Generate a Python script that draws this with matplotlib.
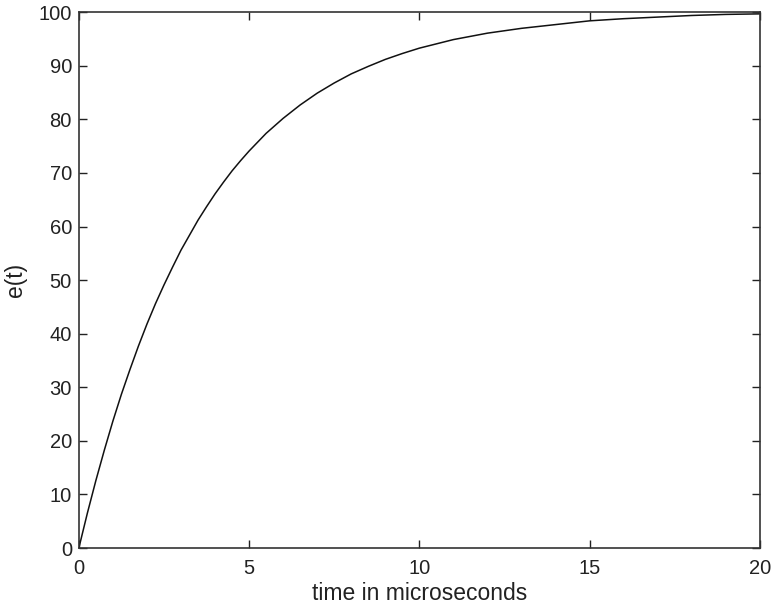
import matplotlib
matplotlib.use("Agg")
import matplotlib.pyplot as plt

plt.rcParams['font.family'] = ['Liberation Sans', 'DejaVu Sans']

t_us = [0, 0.25, 0.5, 0.75, 1, 1.25, 1.5, 1.75, 2, 2.25, 2.5, 2.75, 3,
        3.25, 3.5, 3.75, 4, 4.25, 4.5, 4.75, 5, 5.5, 6, 6.5, 7, 7.5, 8,
        8.5, 9, 9.5, 10, 11, 12, 13, 14, 15, 16, 17, 18, 19, 20]
e_t = [0, 6.5, 12.6, 18.3, 23.7, 28.7, 33.3, 37.7, 41.8, 45.6, 49.1, 52.4,
       55.6, 58.4, 61.2, 63.7, 66.1, 68.3, 70.4, 72.3, 74.1, 77.4, 80.2,
       82.7, 84.9, 86.8, 88.5, 89.9, 91.2, 92.3, 93.3, 94.9, 96.1, 97.0,
       97.7, 98.4, 98.8, 99.1, 99.4, 99.6, 99.7]

x_ticks = [0, 5, 10, 15, 20]
y_ticks = [0, 10, 20, 30, 40, 50, 60, 70, 80, 90, 100]

fig = plt.figure(figsize=(7.73, 6.13), dpi=100)
ax = fig.add_axes([0.102, 0.106, 0.881, 0.874])
ax.plot(t_us, e_t, color='#111111', linewidth=1.1)
ax.set_xlim(0, 20)
ax.set_ylim(0, 100)
ax.set_xticks(x_ticks)
ax.set_yticks(y_ticks)
ax.tick_params(direction='in', length=6, width=1, top=True, right=True,
               labelsize=14.5, colors='#222222', pad=5)
ax.tick_params(axis='x', pad=8)
for s in ax.spines.values():
    s.set_linewidth(1.2)
    s.set_color('#333333')
ax.set_xlabel('time in microseconds', fontsize=16.5, color='#222222', labelpad=3)
ax.set_ylabel('e(t)', fontsize=16.5, color='#222222', labelpad=8)
fig.savefig('out.png', dpi=100)
